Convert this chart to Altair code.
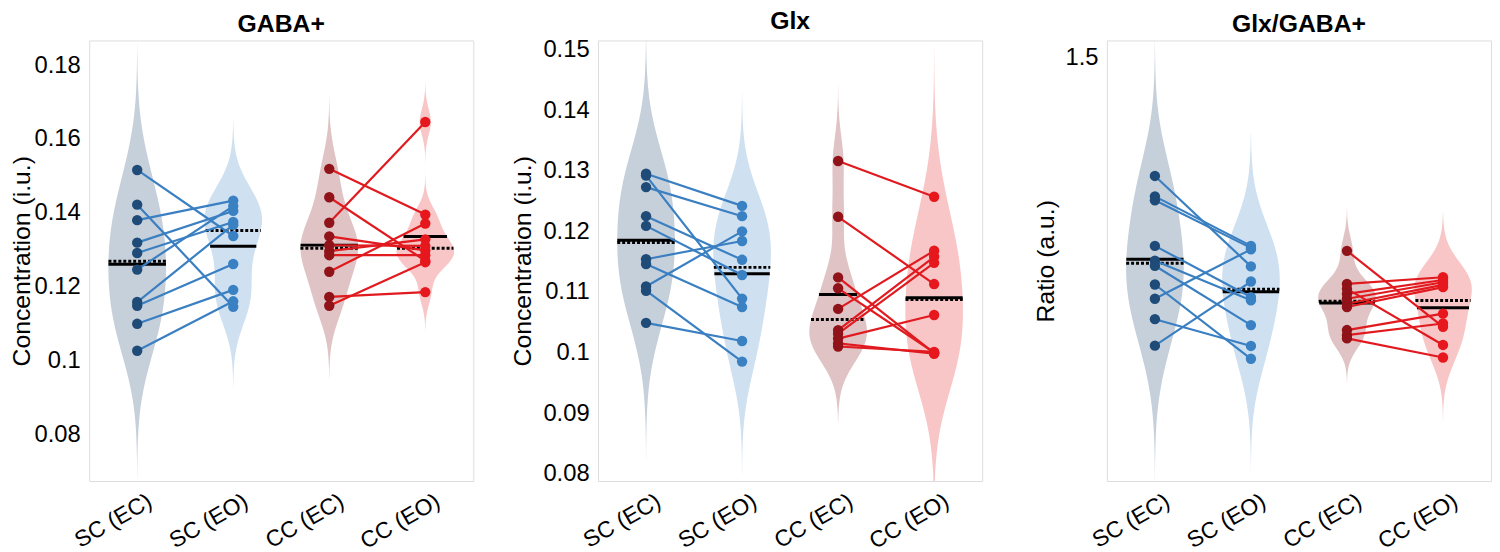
import altair as alt
import numpy as np
import pandas as pd

GROUPS = ["SC (EC)", "SC (EO)", "CC (EC)", "CC (EO)"]
POSITIONS = [1, 2, 3, 4]
SIDES = ["SC", "CC"]

# ---- GABA+ (i.u.) : paired subjects, index j in EC matches index j in EO
gaba_sc_ec = [0.1516, 0.1422, 0.1380, 0.1319, 0.1291, 0.1246, 0.1158, 0.1148, 0.1099, 0.1026]
gaba_sc_eo = [0.1337, 0.1145, 0.1433, 0.1405, 0.1375, 0.1418, 0.1367, 0.1261, 0.1191, 0.1160]
gaba_cc_ec = [0.1519, 0.1442, 0.1373, 0.1336, 0.1312, 0.1296, 0.1285, 0.1240, 0.1172, 0.1148]
gaba_cc_eo = [0.1395, 0.1270, 0.1646, 0.1298, 0.1310, 0.1328, 0.1285, 0.1371, 0.1185, 0.1266]

# ---- Glx (i.u.)
glx_sc_ec = [0.1295, 0.1292, 0.1273, 0.1225, 0.1209, 0.1154, 0.1146, 0.1109, 0.1102, 0.1049]
glx_sc_eo = [0.1242, 0.1089, 0.1225, 0.1153, 0.1128, 0.1184, 0.1075, 0.1200, 0.0985, 0.1019]
glx_cc_ec = [0.1316, 0.1224, 0.1124, 0.1106, 0.1072, 0.1037, 0.1031, 0.1023, 0.1015, 0.1010]
glx_cc_eo = [0.1257, 0.1113, 0.0999, 0.1000, 0.1168, 0.1158, 0.1148, 0.1062, 0.0998, 0.1001]

# ---- Glx/GABA+ ratio (a.u.)
ratio_sc_ec = [1.1773, 1.1216, 1.1108, 0.9865, 0.9459, 0.9324, 0.8811, 0.8422, 0.7865, 0.7143]
ratio_sc_eo = [0.9305, 0.9865, 0.9810, 0.8468, 0.8380, 0.7703, 0.6784, 0.9770, 0.7135, 0.8892]
ratio_cc_ec = [0.9730, 0.8827, 0.8692, 0.8557, 0.8422, 0.8286, 0.8197, 0.7568, 0.7432, 0.7341]
ratio_cc_eo = [0.7657, 0.9008, 0.7162, 0.8935, 0.8873, 0.8800, 0.8738, 0.8016, 0.7746, 0.6819]

PANEL_TITLES = ["GABA+", "Glx", "Glx/GABA+"]
PANEL_YTITLES = ["Concentration (i.u.)", "Concentration (i.u.)", "Ratio (a.u.)"]
PANEL_DOMAINS = [[0.0673, 0.1867], [0.0788, 0.1515], [0.345, 1.547]]
PANEL_TICKS = [[0.08, 0.10, 0.12, 0.14, 0.16, 0.18],
               [0.08, 0.09, 0.10, 0.11, 0.12, 0.13, 0.14, 0.15],
               [1.5]]
PANEL_FORMATS = [".2~f", ".2~f", ".1f"]
PANEL_DATA = [
    [gaba_sc_ec, gaba_sc_eo, gaba_cc_ec, gaba_cc_eo],
    [glx_sc_ec, glx_sc_eo, glx_cc_ec, glx_cc_eo],
    [ratio_sc_ec, ratio_sc_eo, ratio_cc_ec, ratio_cc_eo],
]

VIOLIN_COLORS = ["#c6d0db", "#cfe0f1", "#e0c3c5", "#f8c6c7"]
DOT_COLORS = ["#1e4b77", "#3a81c3", "#8f1318", "#e6181d"]
LINE_COLORS = ["#3a7fc1", "#e01a1f"]

FONT = "Liberation Sans"
VIOLIN_HALF_WIDTH = 0.3


def kde(vals):
    v = np.asarray(vals, dtype=float)
    n = len(v)
    med = np.median(v)
    sig = np.median(np.abs(v - med)) / 0.6745
    bw = sig * (4.0 / (3.0 * n)) ** 0.2
    grid = np.linspace(v.min() - 3 * bw, v.max() + 3 * bw, 100)
    dens = np.exp(-0.5 * ((grid[:, None] - v[None, :]) / bw) ** 2).sum(axis=1)
    half = VIOLIN_HALF_WIDTH * dens / dens.max()
    return grid, half


def build_panel(k, title_pad):
    groups_vals = PANEL_DATA[k]
    vrows, srows, drows, lrows = [], [], [], []
    for gi, (g, pos, vals) in enumerate(zip(GROUPS, POSITIONS, groups_vals)):
        grid, half = kde(vals)
        for yv, h in zip(grid, half):
            vrows.append({"group": g, "y": yv, "lo": pos - h, "hi": pos + h})
        mean = float(np.mean(vals))
        med = float(np.median(vals))
        hm = float(np.interp(mean, grid, half))
        hd = float(np.interp(med, grid, half))
        srows.append({"group": g, "kind": "mean", "y": mean, "x0": pos - hm, "x1": pos + hm})
        srows.append({"group": g, "kind": "median", "y": med, "x0": pos - hd, "x1": pos + hd})
        for v in vals:
            drows.append({"group": g, "x": pos, "y": v})
    for si, side in enumerate(SIDES):
        ec = groups_vals[2 * si]
        eo = groups_vals[2 * si + 1]
        for j, (a, b) in enumerate(zip(ec, eo)):
            lrows.append({"pair": f"{side}{j}", "side": side, "x": POSITIONS[2 * si], "y": a})
            lrows.append({"pair": f"{side}{j}", "side": side, "x": POSITIONS[2 * si + 1], "y": b})

    vdf = pd.DataFrame(vrows)
    sdf = pd.DataFrame(srows)
    ddf = pd.DataFrame(drows)
    ldf = pd.DataFrame(lrows)

    xscale = alt.Scale(domain=[0.5, 4.5], nice=False, zero=False)
    yscale = alt.Scale(domain=PANEL_DOMAINS[k], nice=False, zero=False)
    label_expr = "[" + ",".join("'" + g + "'" for g in GROUPS) + "][datum.value - 1]"
    xaxis = alt.Axis(values=POSITIONS, labelExpr=label_expr, title=None, grid=False,
                     ticks=False, domain=False, labelAngle=-30, labelAlign="right",
                     labelBaseline="top", labelFontSize=23, labelPadding=9, labelOffset=7,
                     labelFont=FONT, labelColor="black", labelOverlap=False, labelFlush=False)
    yaxis = alt.Axis(values=PANEL_TICKS[k], format=PANEL_FORMATS[k], title=PANEL_YTITLES[k],
                     grid=False, ticks=False, domain=False, labelFontSize=24, labelPadding=9,
                     labelFont=FONT, labelColor="black", titleFont=FONT, titleFontSize=25,
                     titleFontWeight="normal", titleColor="black", titlePadding=title_pad,
                     labelOverlap=False)

    violins = alt.Chart(vdf).mark_area(orient="horizontal", clip=True, opacity=1).encode(
        y=alt.Y("y:Q", scale=yscale, axis=yaxis),
        x=alt.X("lo:Q", scale=xscale, axis=xaxis),
        x2="hi:Q",
        fill=alt.Fill("group:N", scale=alt.Scale(domain=GROUPS, range=VIOLIN_COLORS), legend=None),
        detail="group:N",
    )
    means = alt.Chart(sdf).transform_filter(alt.datum.kind == "mean").mark_rule(
        color="black", strokeWidth=3).encode(
        x=alt.X("x0:Q", scale=xscale), x2="x1:Q", y=alt.Y("y:Q", scale=yscale))
    medians = alt.Chart(sdf).transform_filter(alt.datum.kind == "median").mark_rule(
        color="black", strokeWidth=3, strokeDash=[3, 2]).encode(
        x=alt.X("x0:Q", scale=xscale), x2="x1:Q", y=alt.Y("y:Q", scale=yscale))
    lines = alt.Chart(ldf).mark_line(strokeWidth=2.2).encode(
        x=alt.X("x:Q", scale=xscale), y=alt.Y("y:Q", scale=yscale),
        detail="pair:N",
        stroke=alt.Stroke("side:N", scale=alt.Scale(domain=SIDES, range=LINE_COLORS), legend=None),
    )
    dots = alt.Chart(ddf).mark_circle(size=110, opacity=1).encode(
        x=alt.X("x:Q", scale=xscale), y=alt.Y("y:Q", scale=yscale),
        color=alt.Color("group:N", scale=alt.Scale(domain=GROUPS, range=DOT_COLORS), legend=None),
    )
    return alt.layer(violins, means, medians, lines, dots).properties(
        width=388, height=445,
        title=alt.TitleParams(PANEL_TITLES[k], fontSize=25, fontWeight="bold", font=FONT,
                              anchor="middle", frame="group", offset=4, color="black"),
    )


def assemble(pad_top):
    p1 = build_panel(0, 0)
    p2 = build_panel(1, 7)
    p3 = build_panel(2, 7)
    return alt.hconcat(alt.hconcat(p1, p2, spacing=36), p3, spacing=50).properties(
        padding={"left": 0, "top": pad_top, "right": 0, "bottom": 0}
    ).configure_view(stroke="#666666", strokeWidth=1.3).configure(background="white")


try:
    chart = assemble(-3)
    chart.to_dict()
except Exception:
    chart = assemble(0)

chart.save("out.html", embed_options={"renderer": "svg", "actions": False})
